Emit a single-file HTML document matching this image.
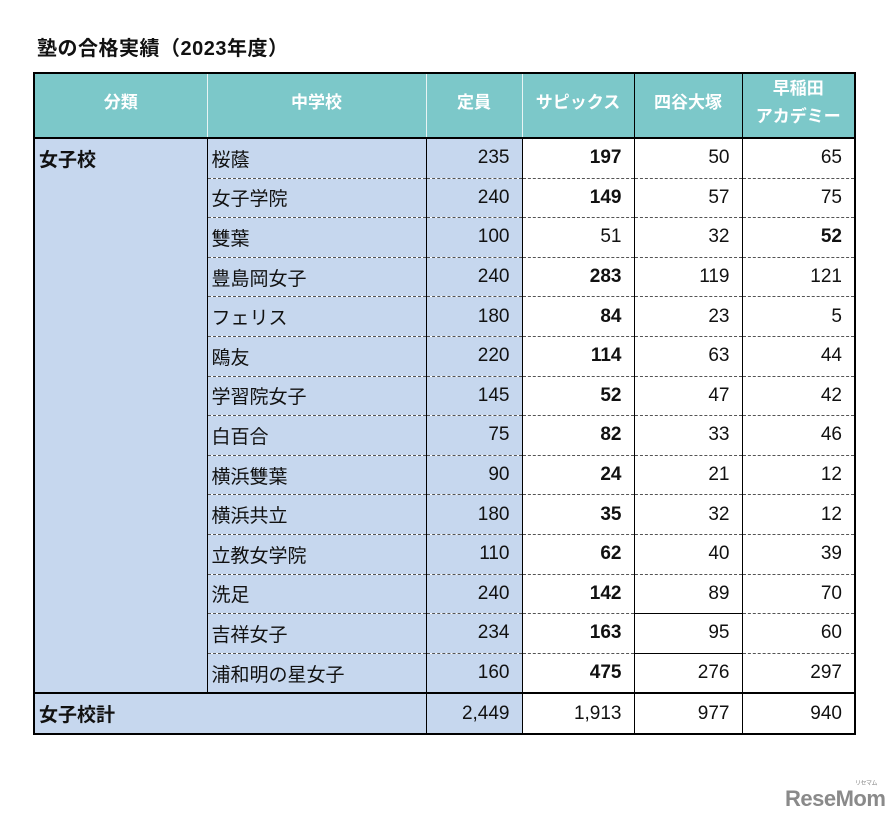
<!DOCTYPE html>
<html lang="ja"><head><meta charset="utf-8">
<style>
html,body{margin:0;padding:0;background:#fff;width:896px;height:819px;overflow:hidden;
font-family:"Liberation Sans","Noto Sans CJK JP",sans-serif;}
#title{position:absolute;left:37px;top:32px;font-size:20px;font-weight:bold;color:#111;letter-spacing:0.5px}
#tbl{position:absolute;left:33px;top:72px;border-collapse:collapse;table-layout:fixed;border:2px solid #000}
#tbl td,#tbl th{padding:0;font-size:19px;color:#111;overflow:hidden;white-space:nowrap}
#tbl th{background:#7cc8c9;color:#fff;font-weight:bold;font-size:17px;height:57px;border-left:1.5px solid #e8f4f4;border-bottom:2px solid #000;vertical-align:middle;padding-bottom:6px;line-height:28px}
#tbl th.bk{border-left:1.5px solid #000}
#tbl td{height:38.6px;border-left:1.5px solid #000;border-bottom:1px dashed #555}
.cat{background:#c6d7ee;font-weight:bold;vertical-align:top;padding:6px 0 0 4px!important;border-bottom:2px solid #000!important}
.nm{background:#c6d7ee;padding-left:4px!important;text-align:left}
.cap{background:#c6d7ee;text-align:right;padding-right:12px!important}
.num{background:#fff;text-align:right;padding-right:12px!important}
.b{font-weight:bold}
tr.total td{border-top:2px solid #000;border-bottom:none;height:37.6px}
.solid{border-top:1.5px solid #000!important;border-bottom:1.5px solid #000!important}
#logo{position:absolute;left:785px;top:786px;font-size:22px;font-weight:bold;color:#8a8a8a;letter-spacing:-0.5px}
#logo small{position:absolute;left:70px;top:-8px;font-size:6px;font-weight:normal}
</style></head><body>
<div id="title">塾の合格実績（2023年度）</div>
<table id="tbl">
<colgroup><col style="width:173px"><col style="width:219px"><col style="width:96px"><col style="width:112px"><col style="width:108px"><col style="width:113px"></colgroup>
<thead><tr>
<th style="border-left:none">分類</th>
<th>中学校</th>
<th>定員</th>
<th>サピックス</th>
<th class="bk">四谷大塚</th>
<th class="bk">早稲田<br>アカデミー</th>
</tr></thead>
<tbody id="body"></tbody>
</table>
<div id="logo">ReseMom<small>リセマム</small></div>
<script>
const schools=["桜蔭","女子学院","雙葉","豊島岡女子","フェリス","鴎友","学習院女子","白百合","横浜雙葉","横浜共立","立教女学院","洗足","吉祥女子","浦和明の星女子"];
const capacity=[235,240,100,240,180,220,145,75,90,180,110,240,234,160];
const sapix=[197,149,51,283,84,114,52,82,24,35,62,142,163,475];
const yotsuya=[50,57,32,119,23,63,47,33,21,32,40,89,95,276];
const waseda=[65,75,52,121,5,44,42,46,12,12,39,70,60,297];
const sapixBold=[1,1,0,1,1,1,1,1,1,1,1,1,1,1];
const wasedaBold=[0,0,1,0,0,0,0,0,0,0,0,0,0,0];
const totals=["2,449","1,913","977","940"];
const body=document.getElementById('body');
function cell(tr,txt,cls){const td=document.createElement('td');td.className=cls;td.textContent=txt;tr.appendChild(td);return td;}
schools.forEach((s,i)=>{
  const tr=document.createElement('tr');
  
  
  if(i===0){const c=cell(tr,'女子校','cat');c.rowSpan=schools.length;c.style.borderLeft='none';
    
    }
  let c1=cell(tr,s,'nm');
  
  
  let c2=cell(tr,capacity[i],'cap');
  
  
  let c3=cell(tr,sapix[i],'num'+(sapixBold[i]?' b':''));
  
  
  let c4=cell(tr,yotsuya[i],'num'+(i>=12?' solid':''));
  
  
  let c5=cell(tr,waseda[i],'num'+(wasedaBold[i]?' b':''));
  
  
  if(i===schools.length-1){[c1,c2,c3,c4,c5].forEach(c=>c.style.borderBottom='none');}
  body.appendChild(tr);
});
const tr=document.createElement('tr');tr.className='total';


const tl=cell(tr,'女子校計','nm b');tl.colSpan=2;tl.style.borderLeft='none';tl.style.paddingLeft='2px';


totals.forEach((t,j)=>{const c=cell(tr,t,j===0?'cap':'num');
  
  });
body.appendChild(tr);
</script>
</body></html>
